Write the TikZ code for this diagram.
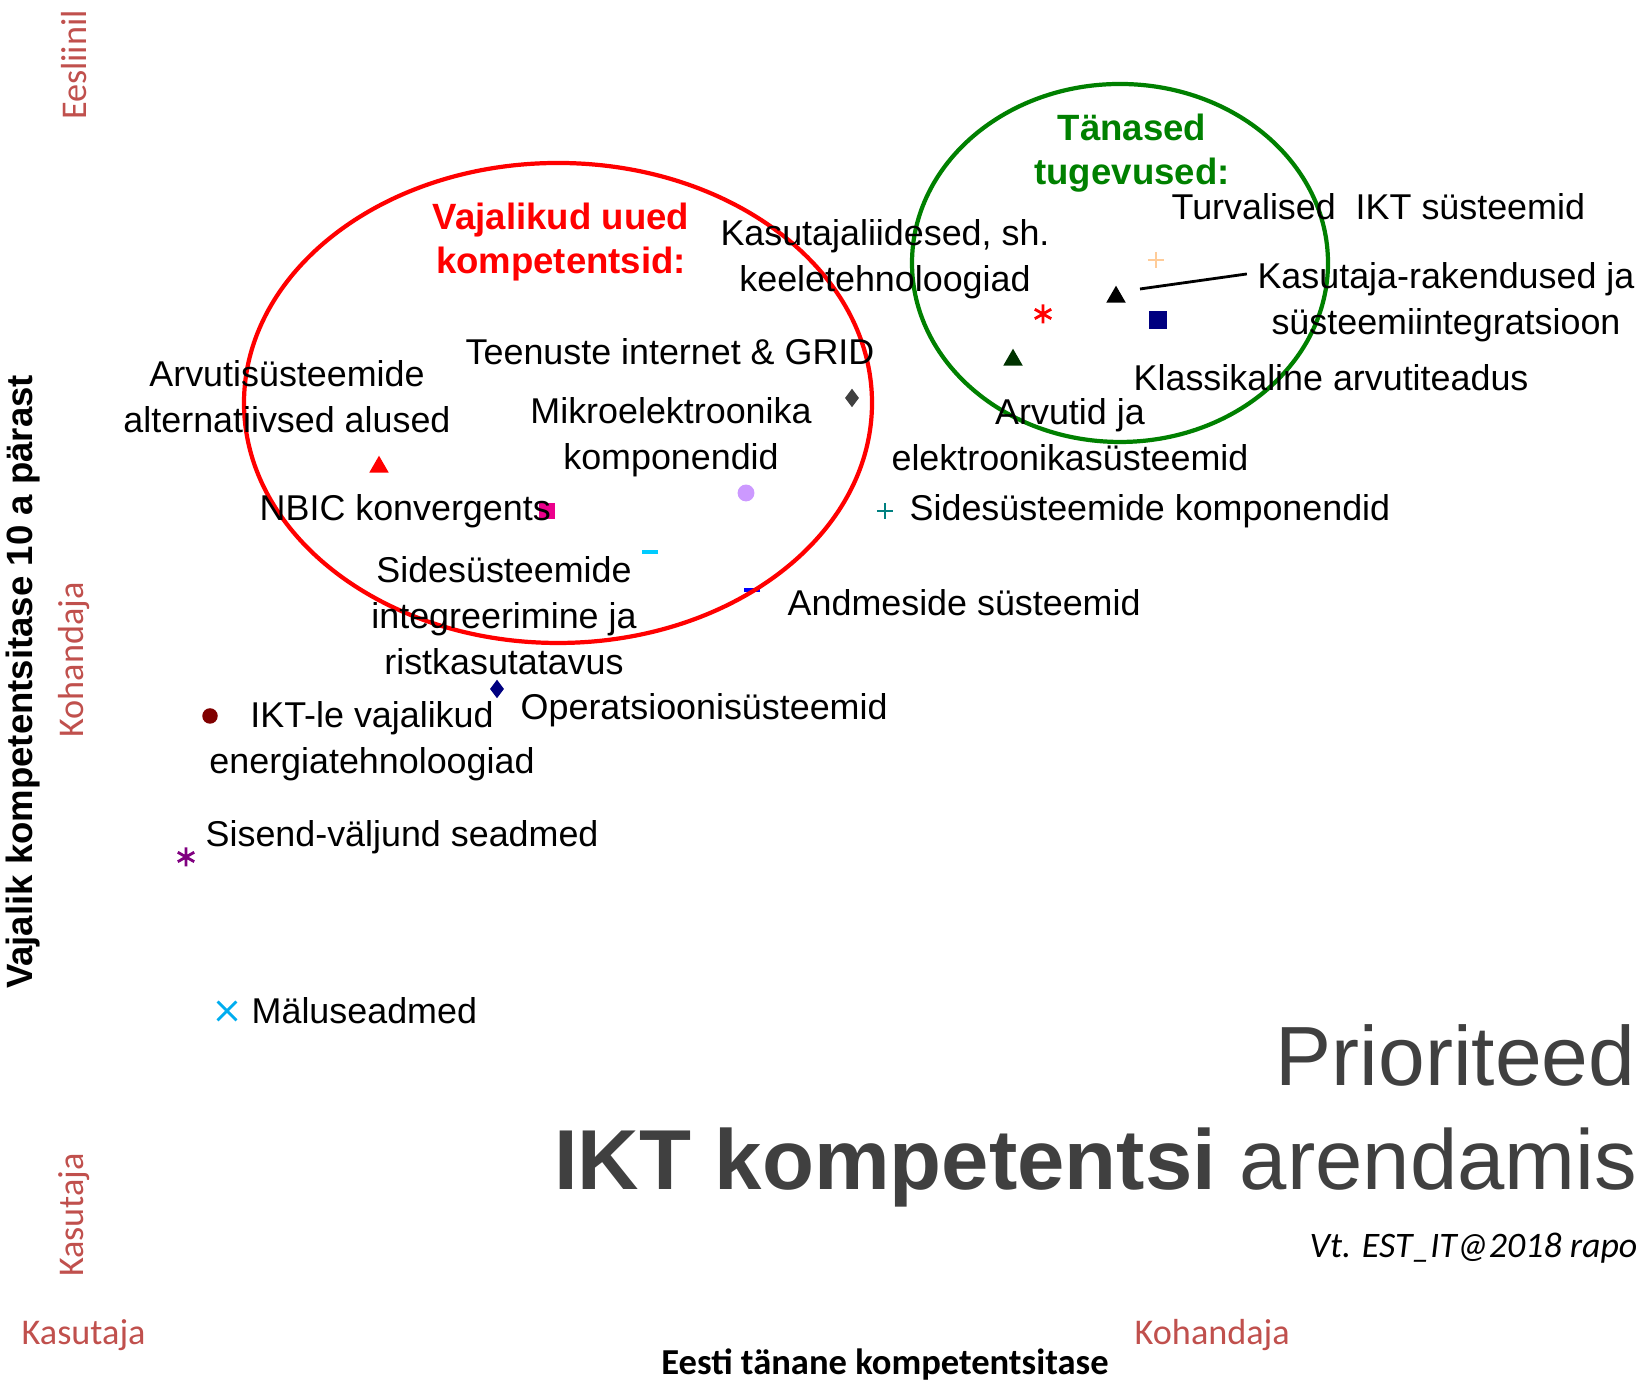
\documentclass[tikz,border=0pt]{standalone}
\usepackage{fontspec}
\setmainfont{Liberation Sans}
\newfontfamily\calibfont{Carlito}
\usetikzlibrary{positioning,plotmarks}

\definecolor{axisred}{HTML}{C0504D}
\definecolor{titlegray}{HTML}{404040}
\definecolor{strongGreen}{HTML}{008000}
\definecolor{lavender}{HTML}{CC99FF}
\definecolor{peach}{HTML}{FFCC99}
\definecolor{skyCyan}{HTML}{00CCFF}
\definecolor{plum}{HTML}{800080}
\definecolor{navy}{HTML}{000080}
\definecolor{maroon}{HTML}{800000}
\definecolor{darkGreen}{HTML}{003300}

\begin{document}
\begin{tikzpicture}[x=0.01cm,y=0.01cm]

  \useasboundingbox (0,0) rectangle (1642,1383);

  \coordinate (AltMark) at (379,916);
  \coordinate (NbicMark) at (547,872);
  \coordinate (MikroMark) at (746,890);
  \coordinate (GridMark) at (852,985);
  \coordinate (IntegrMark) at (650,831);
  \coordinate (AndmeMark) at (752,793);
  \coordinate (SideMark) at (885,872);
  \coordinate (OpMark) at (497,694);
  \coordinate (EnergMark) at (210,667);
  \coordinate (SisendMark) at (186,526);
  \coordinate (MaluMark) at (227,372);
  \coordinate (KasutMark) at (1043,1069);
  \coordinate (RakMark) at (1116,1086);
  \coordinate (TurvMark) at (1156,1123);
  \coordinate (KlassMark) at (1158,1063);
  \coordinate (ArvMark) at (1013,1023);
  \coordinate (RakLink) at (1140,1094);

  \tikzstyle{lbl}=[inner sep=0pt,align=center,
                   font=\fontsize{10.2}{13.1}\selectfont];
  \tikzstyle{head}=[inner sep=0pt,align=center,
                    font=\fontsize{10.4}{12.5}\selectfont\bfseries];
  \tikzstyle{axislbl}=[inner sep=0pt,text=axisred,
                       font=\calibfont\fontsize{10.3}{12}\selectfont];
  \tikzstyle{ring}=[line width=1.2pt];

  % markers
  \draw[color=red,mark size=2.8pt] plot[only marks,mark=triangle*] coordinates {(AltMark)};
  \draw[color=magenta,mark size=2pt] plot[only marks,mark=square*] coordinates {(NbicMark)};
  \draw[color=lavender,mark size=2.2pt] plot[only marks,mark=*] coordinates {(MikroMark)};
  \draw[color=titlegray,mark size=2.3pt] plot[only marks,mark=diamond*] coordinates {(GridMark)};
  \draw[color=skyCyan,mark size=2.3pt,mark options={line width=1.4pt}]
        plot[only marks,mark=-] coordinates {(IntegrMark)};
  \draw[color=blue,mark size=2.3pt,mark options={line width=1.4pt}]
        plot[only marks,mark=-] coordinates {(AndmeMark)};
  \draw[color=teal,mark size=2.3pt,mark options={line width=0.8pt}]
        plot[only marks,mark=+] coordinates {(SideMark)};
  \draw[color=navy,mark size=2.3pt] plot[only marks,mark=diamond*] coordinates {(OpMark)};
  \draw[color=maroon,mark size=2pt] plot[only marks,mark=*] coordinates {(EnergMark)};
  \draw[color=plum,mark size=2.7pt,mark options={line width=0.8pt}]
        plot[only marks,mark=asterisk] coordinates {(SisendMark)};
  \draw[color=cyan,mark size=3.8pt,mark options={line width=0.8pt}]
        plot[only marks,mark=x] coordinates {(MaluMark)};
  \draw[color=red,mark size=2.7pt,mark options={line width=0.8pt}]
        plot[only marks,mark=asterisk] coordinates {(KasutMark)};
  \draw[color=black,mark size=2.8pt] plot[only marks,mark=triangle*] coordinates {(RakMark)};
  \draw[color=peach,mark size=2.3pt,mark options={line width=0.8pt}]
        plot[only marks,mark=+] coordinates {(TurvMark)};
  \draw[color=navy,mark size=2.3pt] plot[only marks,mark=square*] coordinates {(KlassMark)};
  \draw[color=darkGreen,mark size=2.8pt] plot[only marks,mark=triangle*] coordinates {(ArvMark)};

  % groups
  \draw[ring,red] (558,980) ellipse (314 and 240);
  \draw[ring,strongGreen] (1120,1120) ellipse (208 and 179);

  \node[head,text=red] (NewBox) at (561,1141) {Vajalikud uued\\kompetentsid:};
  \node[head,text=strongGreen] (NowBox) at (1132,1230) {Tänased\\tugevused:};

  \node[lbl] (KasutBox) at (885,1124) {Kasutajaliidesed, sh.\\keeletehnoloogiad};
  \node[lbl,anchor=west] (TurvBox) at (1171,1176) {Turvalised\ \ IKT süsteemid};
  \node[lbl] (RakBox) at (1446,1081) {Kasutaja-rakendused ja\\süsteemiintegratsioon};
  \draw[thick] (RakLink) -- ([xshift=-0.1cm,yshift=0.28cm]RakBox.west);
  \node[lbl,anchor=west] (KlassBox) at (1133,1005) {Klassikaline arvutiteadus};
  \node[lbl] (ArvBox) at (1070,948) {Arvutid ja\\elektroonikasüsteemid};

  \node[lbl] (GridBox) at (670,1031) {Teenuste internet \& GRID};
  \node[lbl] (AltBox) at (287,986) {Arvutisüsteemide\\alternatiivsed alused};
  \node[lbl] (MikroBox) at (671,946) {Mikroelektroonika\\komponendid};
  \node[lbl,anchor=west] (NbicBox) at (259,872) {NBIC konvergents};
  \node[lbl,anchor=west] (SideBox) at (909,872) {Sidesüsteemide komponendid};
  \node[lbl] (IntegrBox) at (504,767) {Sidesüsteemide\\integreerimine ja\\ristkasutatavus};
  \node[lbl,anchor=west] (AndmeBox) at (787,780) {Andmeside süsteemid};
  \node[lbl,anchor=west] (OpBox) at (520,673) {Operatsioonisüsteemid};
  \node[lbl] (EnergBox) at (372,642) {IKT-le vajalikud\\energiatehnoloogiad};
  \node[lbl,anchor=west] (SisendBox) at (205,546) {Sisend-väljund seadmed};
  \node[lbl,anchor=west] (MaluBox) at (251,372) {Mäluseadmed};

  % title
  \node[inner sep=0pt,anchor=base east,text=titlegray,font=\fontsize{23.9}{28}\selectfont]
        (TitleTop) at (1636,297) {Prioriteed};
  \node[inner sep=0pt,anchor=base east,text=titlegray,font=\fontsize{24.2}{28}\selectfont]
        (TitleBottom) at (1638,193) {{\bfseries IKT kompetentsi} arendamis};
  \node[inner sep=0pt,anchor=base west,font=\calibfont\itshape\fontsize{10.2}{12}\selectfont]
        (RefNote) at (1309,125) {Vt. EST\_IT@2018 rapo};

  % axes
  \node[inner sep=0pt,font=\calibfont\bfseries\fontsize{10.4}{12}\selectfont]
        (XTitle) at (885,18) {Eesti tänane kompetentsitase};
  \node[inner sep=0pt,rotate=90,font=\bfseries\fontsize{10.4}{12}\selectfont]
        (YTitle) at (23,701) {Vajalik kompetentsitase 10 a pärast};
  \node[axislbl,anchor=west] (XLow) at (21,48) {Kasutaja};
  \node[axislbl,anchor=west] (XHigh) at (1134,48) {Kohandaja};
  \node[axislbl,rotate=90] (YLow) at (74,168) {Kasutaja};
  \node[axislbl,rotate=90] (YMid) at (74,723) {Kohandaja};
  \node[axislbl,rotate=90] (YHigh) at (74,1318) {Eesliinil};

\end{tikzpicture}
\end{document}
